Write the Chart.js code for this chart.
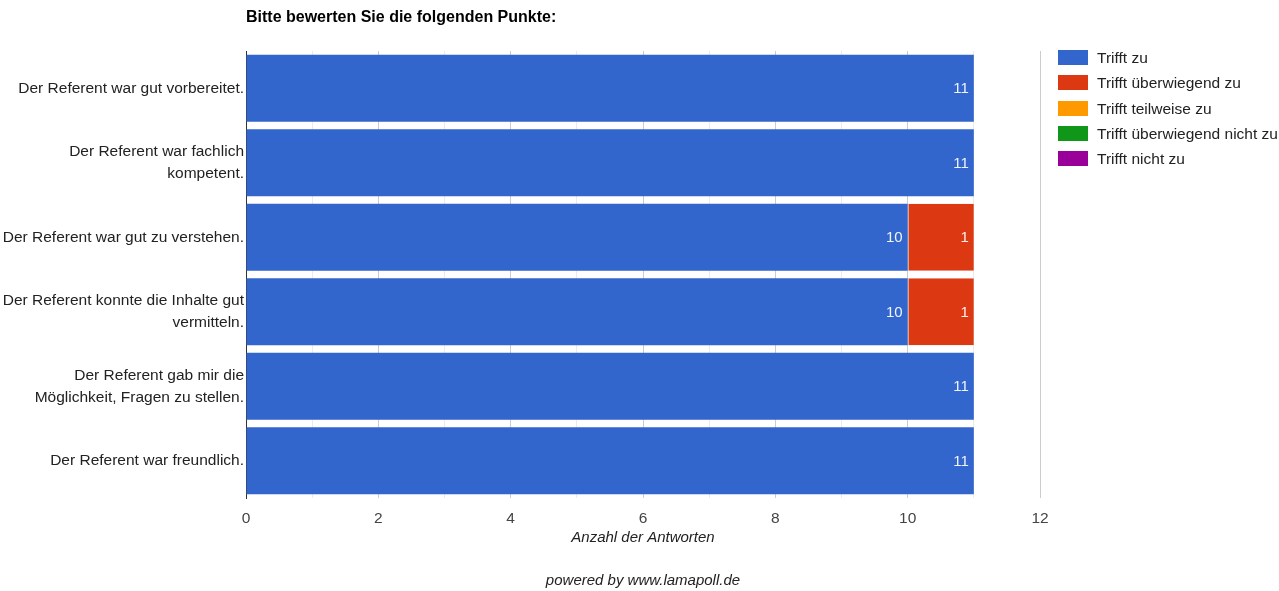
<!DOCTYPE html>
<html>
<head>
<meta charset="utf-8">
<script src="https://cdn.jsdelivr.net/npm/chart.js@4"></script>
<style>
  body { margin: 0; background: #fff; font-family: Arial, "Liberation Sans", sans-serif; }
  #wrap { position: relative; width: 1279px; height: 591px; }
  #chart { position: absolute; left: 0; top: 0; }
  #title { position: absolute; left: 246px; top: 8px; font-size: 16px; font-weight: bold; color: #000; }
  #footer { position: absolute; left: 0; width: 1286px; top: 571px; text-align: center; font-size: 15px; font-style: italic; color: #222; }
  #legend { position: absolute; left: 1058px; top: 50px; font-size: 15.5px; color: #222; }
  .item { height: 25.3px; display: flex; align-items: flex-start; }
  .box { width: 30px; height: 15px; margin-right: 9px; }
  .item span { line-height: 16px; }
</style>
</head>
<body>
<div id="wrap">
  <canvas id="chart" width="1279" height="591"></canvas>
  <div id="title">Bitte bewerten Sie die folgenden Punkte:</div>
  <div id="legend"></div>
  <div id="footer">powered by www.lamapoll.de</div>
</div>
<script>
// Fragen (Kategorien)
const categories = [
    "Der Referent war gut vorbereitet.",
    ["Der Referent war fachlich", "kompetent."],
    "Der Referent war gut zu verstehen.",
    ["Der Referent konnte die Inhalte gut", "vermitteln."],
    ["Der Referent gab mir die", "Möglichkeit, Fragen zu stellen."],
    "Der Referent war freundlich."
];

// Antworten pro Kategorie
const trifftZu = [11, 11, 10, 10, 11, 11];
const trifftUeberwiegendZu = [0, 0, 1, 1, 0, 0];
const trifftTeilweiseZu = [0, 0, 0, 0, 0, 0];
const trifftUeberwiegendNichtZu = [0, 0, 0, 0, 0, 0];
const trifftNichtZu = [0, 0, 0, 0, 0, 0];

const seriesNames = ["Trifft zu", "Trifft überwiegend zu", "Trifft teilweise zu", "Trifft überwiegend nicht zu", "Trifft nicht zu"];
const seriesData = [trifftZu, trifftUeberwiegendZu, trifftTeilweiseZu, trifftUeberwiegendNichtZu, trifftNichtZu];
const colors = ["#3366cc", "#dc3912", "#ff9900", "#109618", "#990099"];

// Achse
const xMin = 0;
const xMax = 12;

Chart.defaults.font.family = 'Arial, "Liberation Sans", sans-serif';
Chart.defaults.font.size = 15.5;

// Werte in die Balken schreiben
const valueLabels = {
    id: "valueLabels",
    afterDatasetsDraw(chart) {
        const ctx = chart.ctx;
        ctx.save();
        ctx.font = '15px Arial, "Liberation Sans", sans-serif';
        ctx.fillStyle = "rgba(255,255,255,0.92)";
        ctx.textAlign = "right";
        ctx.textBaseline = "middle";
        chart.data.datasets.forEach((ds, i) => {
            const meta = chart.getDatasetMeta(i);
            meta.data.forEach((bar, j) => {
                if (ds.data[j] > 0) {
                    ctx.fillText(ds.data[j], bar.x - 5, bar.y + 1);
                }
            });
        });
        ctx.restore();
    }
};

const datasets = seriesNames.map((name, i) => ({
    label: name,
    data: seriesData[i],
    backgroundColor: colors[i],
    borderColor: "#c8c8c8",
    borderWidth: i === 1 ? { left: 1, right: 0, top: 0, bottom: 0 } : 0,
    borderSkipped: false,
    categoryPercentage: 1,
    barPercentage: 0.9
}));

new Chart(document.getElementById("chart"), {
    type: "bar",
    data: { labels: categories, datasets: datasets },
    options: {
        indexAxis: "y",
        responsive: false,
        animation: false,
        layout: { padding: { top: 51, bottom: 43, left: 0, right: 239 } },
        plugins: {
            legend: { display: false },
            tooltip: { enabled: false }
        },
        scales: {
            x: {
                stacked: true,
                min: xMin,
                max: xMax,
                afterFit: (scale) => { scale.height = 50; },
                ticks: {
                    stepSize: 1,
                    autoSkip: false,
                    maxRotation: 0,
                    padding: 11,
                    color: "#444",
                    font: { size: 15.5 },
                    callback: (v) => (v % 2 === 0 ? v : "")
                },
                grid: {
                    drawTicks: false,
                    color: (c) => (c.tick.value === 0 ? "#333" : (c.tick.value % 2 === 0 ? "#cccccc" : "#ebebeb"))
                },
                border: { display: false },
                title: {
                    display: true,
                    text: "Anzahl der Antworten",
                    color: "#222",
                    font: { style: "italic", size: 15 },
                    padding: { top: 0, bottom: 1 }
                }
            },
            y: {
                stacked: true,
                afterFit: (scale) => { scale.width = 246; },
                ticks: {
                    color: "#222",
                    padding: 2,
                    font: { size: 15.5, lineHeight: 1.42 }
                },
                grid: { display: false, drawTicks: false },
                border: { display: true, color: "#333", width: 1 }
            }
        }
    },
    plugins: [valueLabels]
});

// Legende
const legend = document.getElementById("legend");
seriesNames.forEach((name, i) => {
    const item = document.createElement("div");
    item.className = "item";
    const box = document.createElement("div");
    box.className = "box";
    box.style.background = colors[i];
    const text = document.createElement("span");
    text.textContent = name;
    item.appendChild(box);
    item.appendChild(text);
    legend.appendChild(item);
});
</script>
</body>
</html>
